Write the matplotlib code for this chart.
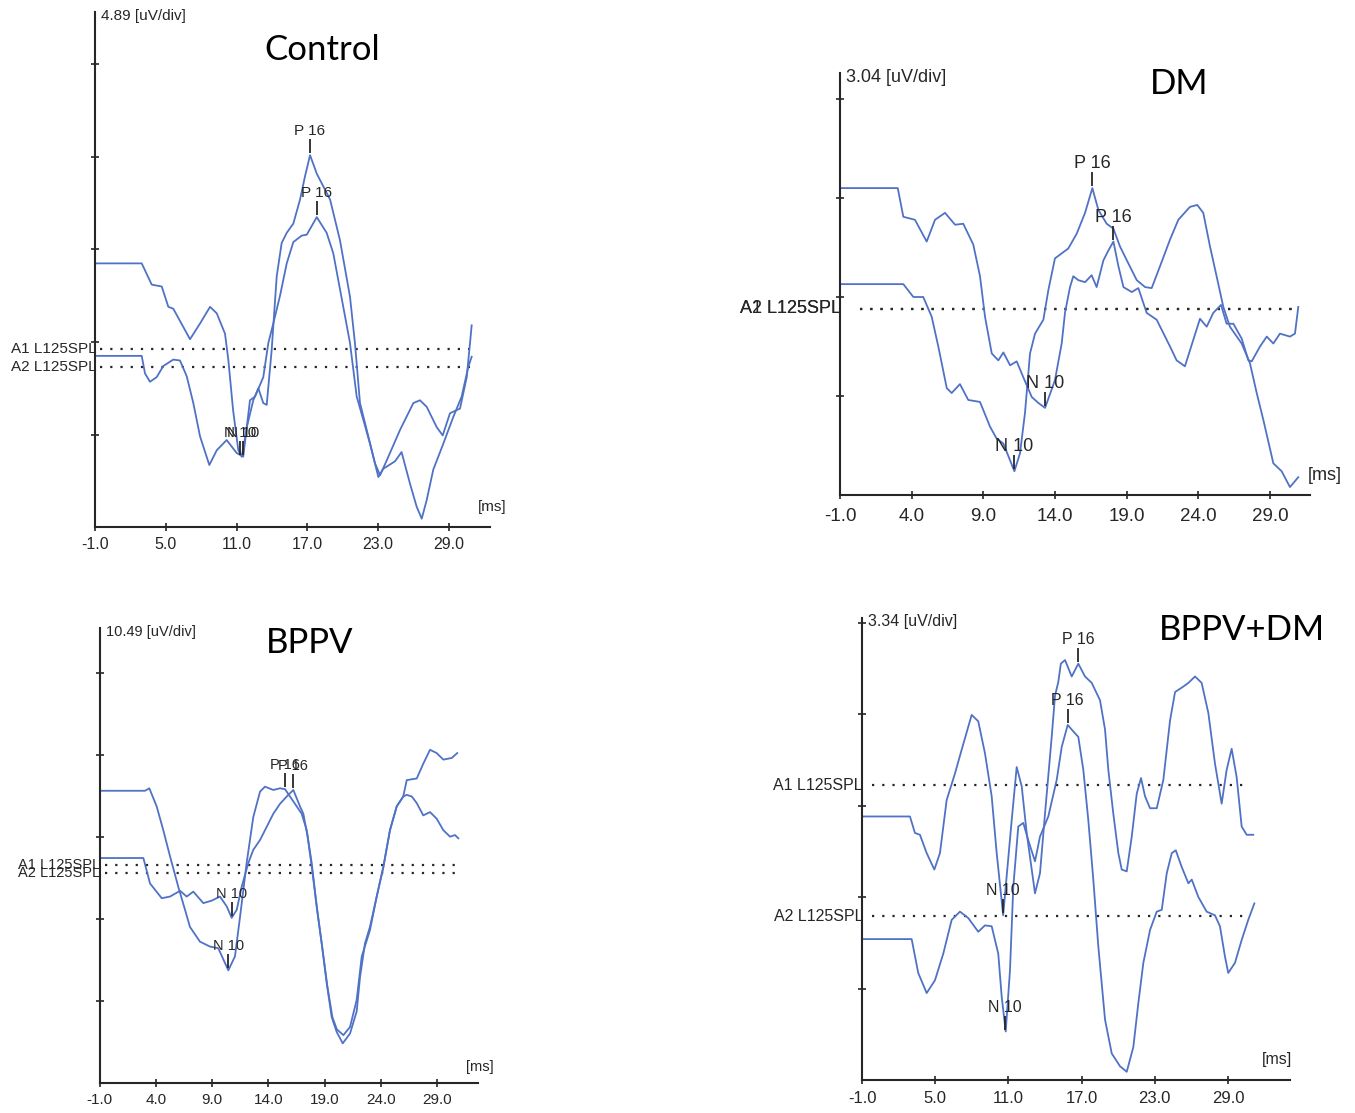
import matplotlib

matplotlib.use("Agg")
import matplotlib.pyplot as plt
from matplotlib.transforms import offset_copy

W, H = 1355, 1113
TRACE_COLOR = "#5072c6"
INK = "#262626"
SMALL_FONT = ["Liberation Sans", "DejaVu Sans"]
TITLE_FONT = ["Lato", "DejaVu Sans"]

# ---- data: time in ms, amplitude in divisions above the time axis ----
CONTROL_A1_MS = [-1, 2.94, 3.79, 4.64, 5.2, 5.62, 7.04, 7.89, 8.74, 9.31, 10.01, 10.29, 10.7, 11.14, 11.43,
                 11.9, 12.41, 12.84, 13.26, 13.55, 13.97, 14.4, 14.82, 15.25, 15.81, 16.38, 16.8, 17.23, 17.8,
                 18.93, 19.77, 20.62, 21.04, 21.47, 22.04, 22.74, 23.17, 23.74, 24.87, 26.0, 26.56, 27.13,
                 27.98, 28.49, 29.11, 29.96, 30.53, 30.81, 30.95]
CONTROL_A1_DIV = [2.85, 2.85, 2.62, 2.60, 2.38, 2.36, 2.03, 2.20, 2.38, 2.31, 2.09, 1.81, 1.26, 0.83, 0.76,
                  1.10, 1.37, 1.50, 1.34, 1.32, 1.91, 2.71, 3.07, 3.18, 3.28, 3.54, 3.79, 4.02, 3.82,
                  3.54, 3.10, 2.49, 1.99, 1.34, 1.05, 0.69, 0.56, 0.72, 1.05, 1.34, 1.37, 1.30,
                  1.08, 0.99, 1.23, 1.28, 1.62, 1.99, 2.18]
CONTROL_A2_MS = [-1, 2.94, 3.22, 3.64, 4.21, 4.77, 5.62, 6.19, 6.76, 7.32, 7.89, 8.68, 9.31, 10.15, 11.0,
                 11.56, 12.13, 12.56, 13.26, 13.69, 14.11, 14.68, 15.25, 15.81, 16.52, 16.95, 17.8, 18.64,
                 19.2, 20.05, 20.62, 21.19, 21.75, 22.32, 23.03, 23.45, 24.44, 25.0, 25.71, 26.28, 26.71,
                 27.13, 27.69, 28.54, 29.39, 30.1, 30.66, 30.95]
CONTROL_A2_DIV = [1.85, 1.85, 1.66, 1.57, 1.62, 1.74, 1.81, 1.80, 1.63, 1.34, 0.98, 0.67, 0.83, 0.94, 0.80,
                  0.76, 1.37, 1.41, 1.62, 1.99, 2.20, 2.50, 2.85, 3.08, 3.15, 3.16, 3.35, 3.18,
                  2.96, 2.38, 1.99, 1.41, 1.16, 0.90, 0.54, 0.63, 0.71, 0.81, 0.47, 0.22, 0.09,
                  0.29, 0.62, 0.90, 1.19, 1.41, 1.73, 1.84]
CONTROL_LEVELS = [1.92, 1.73]
CONTROL_CHANNELS = ["A1 L125SPL", "A2 L125SPL"]
CONTROL_MARKS = [("P 16", 17.23, 4.02), ("P 16", 17.8, 3.35), ("N 10", 11.3, 0.76), ("N 10", 11.55, 0.76)]

DM_A1_MS = [-1, 3.03, 3.42, 4.23, 5.05, 5.63, 6.33, 7.03, 7.60, 8.30, 8.77, 9.12, 9.59, 10.05, 10.40, 10.87,
            11.33, 11.79, 12.38, 12.84, 13.31, 14.0, 14.47, 14.70, 15.05, 15.28, 15.63, 16.10, 16.56, 16.91,
            17.38, 17.73, 18.08, 18.43, 18.78, 19.36, 19.82, 20.40, 21.10, 22.03, 22.49, 23.07, 23.66,
            24.12, 24.59, 25.05, 25.59, 25.98, 26.45, 27.03, 27.50, 27.73, 28.31, 28.78, 29.24, 29.70,
            30.40, 30.75, 30.98]
DM_A1_DIV = [3.10, 3.10, 2.81, 2.78, 2.56, 2.78, 2.85, 2.73, 2.74, 2.53, 2.21, 1.80, 1.43, 1.36, 1.44, 1.31,
             1.35, 1.19, 0.99, 0.93, 0.88, 1.16, 1.53, 1.84, 2.10, 2.21, 2.17, 2.15, 2.22, 2.10,
             2.37, 2.47, 2.56, 2.31, 2.10, 2.05, 2.09, 1.84, 1.77, 1.50, 1.36, 1.30, 1.57,
             1.78, 1.70, 1.84, 1.92, 1.73, 1.73, 1.58, 1.36, 1.35, 1.50, 1.60, 1.53, 1.63,
             1.60, 1.63, 1.90]
DM_A2_MS = [-1, 3.42, 4.12, 4.81, 5.40, 5.86, 6.45, 6.79, 7.37, 7.95, 8.77, 9.47, 9.93, 10.40, 11.17, 11.56,
            11.91, 12.26, 12.61, 13.19, 13.54, 14.0, 14.93, 15.52, 16.10, 16.61, 17.03, 17.61, 18.08, 18.54,
            19.12, 19.71, 20.29, 20.75, 21.33, 22.03, 22.61, 23.42, 23.93, 24.35, 24.82, 25.28, 25.75,
            26.21, 27.03, 27.61, 28.08, 28.54, 29.24, 29.82, 30.40, 30.98]
DM_A2_DIV = [2.13, 2.13, 2.00, 2.00, 1.80, 1.50, 1.08, 1.03, 1.12, 0.96, 0.94, 0.69, 0.57, 0.52, 0.24, 0.42,
             0.83, 1.43, 1.63, 1.77, 2.07, 2.39, 2.49, 2.64, 2.85, 3.10, 2.88, 2.74, 2.69, 2.51,
             2.34, 2.17, 2.10, 2.09, 2.31, 2.58, 2.78, 2.91, 2.93, 2.85, 2.51, 2.21, 1.90,
             1.70, 1.53, 1.33, 1.03, 0.76, 0.32, 0.24, 0.08, 0.18]
DM_LEVELS = [1.88, 1.88]
DM_CHANNELS = ["A1 L125SPL", "A2 L125SPL"]
DM_MARKS = [("P 16", 16.61, 3.10), ("P 16", 18.08, 2.56), ("N 10", 13.31, 0.88), ("N 10", 11.17, 0.24)]

BPPV_A1_MS = [-1, 3.04, 3.43, 4.08, 4.67, 5.27, 6.0, 6.6, 7.04, 7.93, 8.82, 9.56, 10.45, 11.04, 11.49, 12.08,
              12.67, 13.27, 13.71, 14.45, 15.04, 15.49, 15.93, 16.53, 16.97, 17.42, 17.86, 18.31, 18.75,
              19.2, 19.64, 20.08, 20.62, 21.27, 21.86, 22.16, 22.6, 23.04, 23.64, 24.23, 24.82, 25.42,
              26.0, 26.31, 27.2, 27.78, 28.38, 28.97, 29.56, 30.31, 30.8]
BPPV_A1_DIV = [3.56, 3.56, 3.59, 3.37, 3.08, 2.76, 2.39, 2.11, 1.90, 1.72, 1.66, 1.64, 1.37, 1.54, 2.02, 2.68,
               3.24, 3.55, 3.61, 3.57, 3.59, 3.58, 3.49, 3.37, 3.28, 3.08, 2.68, 2.15, 1.70,
               1.21, 0.80, 0.62, 0.48, 0.60, 0.87, 1.29, 1.70, 1.90, 2.27, 2.63, 3.08, 3.37,
               3.49, 3.69, 3.71, 3.89, 4.06, 4.02, 3.94, 3.96, 4.02]
BPPV_A2_MS = [-1, 2.9, 3.49, 4.53, 5.27, 6.16, 6.75, 7.34, 8.23, 8.97, 9.71, 10.31, 10.75, 11.2, 11.64, 12.23,
              12.67, 13.27, 13.86, 14.45, 15.04, 15.64, 16.23, 16.82, 17.12, 17.5, 17.9, 18.35, 18.8, 19.25,
              19.7, 20.1, 20.68, 21.27, 21.86, 22.31, 23.04, 23.64, 24.23, 24.82, 25.42, 26.0, 26.31,
              26.76, 27.2, 27.78, 28.38, 28.97, 29.56, 30.16, 30.6, 30.9]
BPPV_A2_DIV = [2.74, 2.74, 2.43, 2.25, 2.27, 2.34, 2.27, 2.33, 2.19, 2.22, 2.27, 2.15, 2.01, 2.11, 2.39, 2.68,
               2.84, 2.96, 3.12, 3.28, 3.40, 3.49, 3.57, 3.37, 3.28, 3.00, 2.60, 2.10, 1.65, 1.18,
               0.80, 0.65, 0.58, 0.68, 1.01, 1.54, 1.86, 2.27, 2.63, 3.08, 3.37, 3.49, 3.51,
               3.49, 3.41, 3.26, 3.30, 3.22, 3.08, 3.00, 3.02, 2.98]
BPPV_LEVELS = [2.66, 2.56]
BPPV_CHANNELS = ["A1 L125SPL", "A2 L125SPL"]
BPPV_MARKS = [("P 16", 15.49, 3.58), ("P 16", 16.23, 3.57), ("N 10", 10.75, 2.01), ("N 10", 10.45, 1.37)]

BPPVDM_A1_MS = [-1, 2.93, 3.34, 3.75, 4.30, 4.93, 5.39, 5.94, 6.62, 7.17, 7.99, 8.53, 9.08, 9.63, 10.04,
                10.57, 11.27, 11.68, 12.09, 12.5, 13.18, 13.59, 14.0, 14.55, 14.82, 15.09, 15.3, 15.64,
                16.19, 16.73, 17.28, 17.83, 18.51, 18.92, 19.19, 19.6, 20.01, 20.29, 20.7, 21.11, 21.52,
                21.87, 22.2, 22.61, 23.16, 23.7, 24.25, 24.66, 25.34, 25.75, 26.3, 26.84, 27.39, 27.93,
                28.48, 28.89, 29.30, 29.71, 30.12, 30.53, 31.07]
BPPVDM_A1_DIV = [2.88, 2.88, 2.70, 2.68, 2.48, 2.30, 2.48, 3.06, 3.35, 3.61, 3.99, 3.92, 3.57, 3.10, 2.48,
                 1.80, 2.84, 3.42, 3.21, 2.70, 2.04, 2.26, 2.91, 3.75, 4.20, 4.35, 4.55, 4.59,
                 4.41, 4.55, 4.41, 4.34, 4.15, 3.83, 3.39, 2.91, 2.48, 2.30, 2.28, 2.66, 3.13,
                 3.30, 3.10, 2.97, 2.97, 3.28, 3.93, 4.24, 4.30, 4.34, 4.41, 4.34, 4.01, 3.46,
                 3.02, 3.39, 3.62, 3.31, 2.77, 2.68, 2.68]
BPPVDM_A2_MS = [-1, 3.07, 3.61, 4.30, 4.98, 5.66, 6.35, 7.03, 7.71, 8.53, 9.08, 9.63, 10.17, 10.45, 10.78,
                11.13, 11.40, 11.81, 12.22, 12.63, 13.18, 13.59, 14.27, 14.96, 15.37, 15.86, 16.32, 16.73,
                17.14, 17.55, 17.96, 18.37, 18.92, 19.47, 20.15, 20.7, 21.24, 21.65, 22.06, 22.61, 23.16,
                23.57, 23.98, 24.39, 24.72, 25.2, 25.75, 26.03, 26.57, 27.25, 27.93, 28.34, 28.75, 29.02,
                29.57, 30.12, 30.66, 31.16]
BPPVDM_A2_DIV = [1.54, 1.54, 1.17, 0.95, 1.09, 1.38, 1.75, 1.84, 1.77, 1.62, 1.69, 1.68, 1.38, 0.91, 0.53,
                 1.20, 2.11, 2.77, 2.81, 2.62, 2.39, 2.66, 2.88, 3.28, 3.64, 3.88, 3.81, 3.75,
                 3.39, 2.84, 2.19, 1.46, 0.66, 0.29, 0.15, 0.09, 0.36, 0.84, 1.28, 1.64, 1.84,
                 1.86, 2.26, 2.48, 2.51, 2.33, 2.15, 2.19, 2.00, 1.84, 1.80, 1.68, 1.35, 1.17,
                 1.28, 1.53, 1.75, 1.93]
BPPVDM_LEVELS = [3.22, 1.79]
BPPVDM_CHANNELS = ["A1 L125SPL", "A2 L125SPL"]
BPPVDM_MARKS = [("P 16", 16.73, 4.55), ("P 16", 15.86, 3.88), ("N 10", 10.57, 1.80), ("N 10", 10.7, 0.53)]

TITLES = ["Control", "DM", "BPPV", "BPPV+DM"]
SCALES = ["4.89 [uV/div]", "3.04 [uV/div]", "10.49 [uV/div]", "3.34 [uV/div]"]
XTICKS_A = [-1, 5, 11, 17, 23, 29]
XTICKS_B = [-1, 4, 9, 14, 19, 24, 29]

# ---- layout: axis origin (px), px per ms, px per div, limits, fonts, label spots ----
LAYOUT = [
    dict(x0=95.3, y0=527, pms=11.78, pdiv=92.5, xmax=32.5, ymax=5.57, fs=11, tfs=11.5, pad=4.5,
         ms_at=(32.7, 0.22), title_at=(18.24, 5.16), span=(-0.6, 30.8)),
    dict(x0=840, y0=495, pms=14.33, pdiv=99, xmax=31.8, ymax=4.26, fs=13, tfs=13.5, pad=6.5,
         ms_at=(32.8, 0.20), title_at=(22.7, 4.15), span=(0.4, 30.75)),
    dict(x0=99.5, y0=1082.7, pms=11.25, pdiv=82, xmax=32.6, ymax=5.55, fs=10.5, tfs=11, pad=4.5,
         ms_at=(32.8, 0.19), title_at=(17.7, 5.36), span=(-0.5, 30.9)),
    dict(x0=862, y0=1080, pms=12.2, pdiv=91.5, xmax=34.1, ymax=5.05, fs=11.5, tfs=12, pad=5,
         ms_at=(33.0, 0.22), title_at=(30.15, 4.92), span=(-0.2, 30.6)),
]

panels = [
    dict(traces=[(CONTROL_A1_MS, CONTROL_A1_DIV), (CONTROL_A2_MS, CONTROL_A2_DIV)],
         levels=CONTROL_LEVELS, channels=CONTROL_CHANNELS, marks=CONTROL_MARKS, xticks=XTICKS_A, nyt=5),
    dict(traces=[(DM_A1_MS, DM_A1_DIV), (DM_A2_MS, DM_A2_DIV)],
         levels=DM_LEVELS, channels=DM_CHANNELS, marks=DM_MARKS, xticks=XTICKS_B, nyt=4),
    dict(traces=[(BPPV_A1_MS, BPPV_A1_DIV), (BPPV_A2_MS, BPPV_A2_DIV)],
         levels=BPPV_LEVELS, channels=BPPV_CHANNELS, marks=BPPV_MARKS, xticks=XTICKS_B, nyt=5),
    dict(traces=[(BPPVDM_A1_MS, BPPVDM_A1_DIV), (BPPVDM_A2_MS, BPPVDM_A2_DIV)],
         levels=BPPVDM_LEVELS, channels=BPPVDM_CHANNELS, marks=BPPVDM_MARKS, xticks=XTICKS_A, nyt=5),
]

fig = plt.figure(figsize=(W / 100, H / 100), dpi=100)
fig.patch.set_facecolor("white")

for panel, lay, title, scale in zip(panels, LAYOUT, TITLES, SCALES):
    left = lay["x0"] / W
    bottom = (H - lay["y0"]) / H
    width = (lay["xmax"] + 1) * lay["pms"] / W
    height = lay["ymax"] * lay["pdiv"] / H
    ax = fig.add_axes([left, bottom, width, height])
    ax.patch.set_alpha(0)
    ax.set_xlim(-1, lay["xmax"])
    ax.set_ylim(0, lay["ymax"])
    for side in ("top", "right"):
        ax.spines[side].set_visible(False)
    for side in ("left", "bottom"):
        ax.spines[side].set_color(INK)
        ax.spines[side].set_linewidth(1.5)
    fs = lay["fs"]

    ax.set_xticks(panel["xticks"])
    ax.set_xticklabels([f"{t:.1f}" for t in panel["xticks"]], fontsize=lay["tfs"], family=SMALL_FONT,
                       color=INK)
    ax.set_yticks(range(1, panel["nyt"] + 1))
    ax.set_yticklabels([])
    ax.tick_params(direction="inout", length=6, width=1.2, color=INK, pad=lay["pad"])

    # reference levels
    x_a, x_b = lay["span"]
    for level, name in zip(panel["levels"], panel["channels"]):
        ax.hlines(level, x_a, x_b, colors=INK, linewidth=1.6, linestyles=(0, (1, 3.6)))
        ax.annotate(name, xy=(-1, level), xytext=(1, 0), textcoords="offset pixels",
                    ha="right", va="center", fontsize=fs, family=SMALL_FONT, color=INK,
                    annotation_clip=False)

    for ms, div in panel["traces"]:
        ax.plot(ms, div, color=TRACE_COLOR, linewidth=1.3, solid_joinstyle="round")

    tick_tf = offset_copy(ax.transData, fig=fig, x=0, y=9, units="dots")
    text_tf = offset_copy(ax.transData, fig=fig, x=0, y=20, units="dots")
    for label, x, y in panel["marks"]:
        ax.plot([x], [y], marker="|", markersize=9.5, markeredgewidth=1.3, color=INK, transform=tick_tf)
        ax.text(x, y, label, transform=text_tf, ha="center", va="baseline",
                fontsize=fs, family=SMALL_FONT, color=INK)

    ax.annotate(scale, xy=(-1, lay["ymax"]), xytext=(6, -4), textcoords="offset pixels",
                ha="left", va="center", fontsize=fs, family=SMALL_FONT, color=INK, annotation_clip=False)
    ax.text(*lay["ms_at"], "[ms]", ha="center", va="center", fontsize=fs, family=SMALL_FONT, color=INK)
    ax.text(*lay["title_at"], title, ha="center", va="center", fontsize=25, family=TITLE_FONT, color="black")

fig.savefig("out.png", dpi=100, facecolor="white")
